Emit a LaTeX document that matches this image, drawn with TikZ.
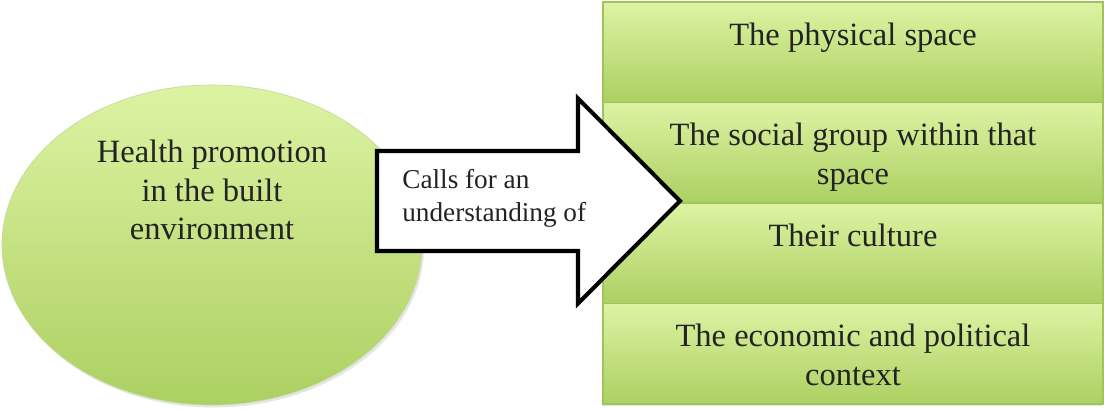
\documentclass[tikz,border=0pt]{standalone}
\usepackage{fontspec}
\setmainfont{Liberation Serif}
\usetikzlibrary{calc}
\usetikzlibrary{positioning}
\usetikzlibrary{shapes.geometric}
\usetikzlibrary{shadows}
\definecolor{lighttop}{RGB}{221,243,163}
\definecolor{darkbottom}{RGB}{172,208,98}
\definecolor{rowline}{RGB}{160,195,95}
\definecolor{inktext}{RGB}{35,35,35}

\begin{document}
\begin{tikzpicture}[
  bigtext/.style={font=\fontsize{18.5}{22}\selectfont, text=inktext, align=center, inner sep=0pt},
  rowbox/.style={rectangle, draw=rowline, line width=0.6pt, top color=lighttop, bottom color=darkbottom,
    minimum width=10cm, minimum height=2.01cm, inner sep=0pt,
    drop shadow={shadow xshift=-0.03cm, shadow yshift=-0.05cm, opacity=0.2}},
]
\useasboundingbox (0,0) rectangle (22.08,-8.18);
\node[ellipse, minimum width=8.4cm, minimum height=6.4cm, top color=lighttop, bottom color=darkbottom,
  draw=rowline!60, line width=0.4pt, drop shadow={shadow xshift=0.04cm, shadow yshift=-0.05cm, opacity=0.2}] (hp) at (4.24,-4.9) {};
\node[bigtext, below=1.1cm of hp.north] (hptext) {Health promotion\\in the built\\environment};
\foreach \i/\txt in {1/The physical space, 2/The social group within that\\space, 3/Their culture, 4/The economic and political\\context} {
  \node[rowbox] (row\i) at (17.06,{-1.045-(\i-1)*2.01}) {};
  \node[bigtext, below=0.42cm of row\i.north] (rowtext\i) {\txt};
}
\draw[line width=2.3pt, fill=white, line join=miter] (7.54,-3.02) -| (11.56,-1.97) -- (13.6,-4.02) -- (11.56,-6.07) |- (7.54,-5.02) -- cycle;
\node[font=\fontsize{15.5}{18.5}\selectfont, text=inktext, align=left, inner sep=0pt, anchor=north west] (calls) at (8.04,-3.38) {Calls for an\\understanding of};
\end{tikzpicture}
\end{document}
